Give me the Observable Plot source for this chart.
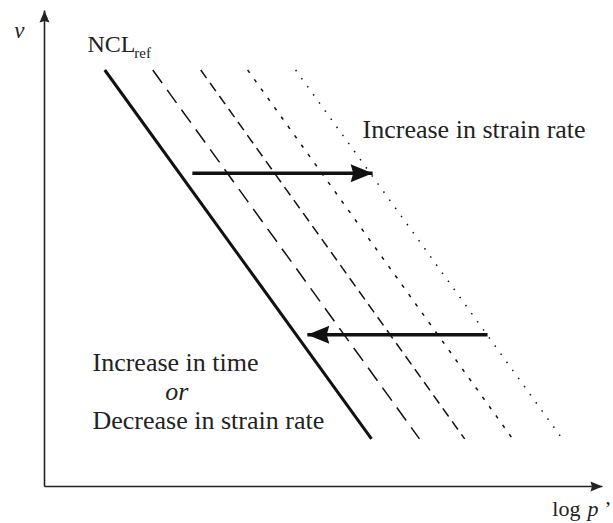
<!DOCTYPE html>
<html>
<head>
<meta charset="utf-8">
<script src="https://cdn.jsdelivr.net/npm/d3@7"></script>
<script src="https://cdn.jsdelivr.net/npm/@observablehq/plot@0.6"></script>
<style>
  html, body { margin: 0; padding: 0; background: #fff; }
  svg { display: block; }
</style>
</head>
<body>
<div id="chart"></div>
<script>
// Compression lines (log p' at top / bottom of each line, v range)
const lineNames = ["NCLref", "rate1", "rate2", "rate3", "rate4"];
const logPTop = [1.08, 1.94, 2.80, 3.64, 4.50];
const logPBottom = [5.86, 6.72, 7.53, 8.39, 9.28];
const vTop = 8.75;
const vBottom = 1.0;
const lineDash = [null, "16,8.5", "10,6", "3.5,8", "1.5,8.5"];
const lineWidth = [3, 1.5, 1.5, 1.5, 1.5];

// Shift arrows
const arrowX1 = [2.65, 7.94];
const arrowX2 = [5.88, 4.71];
const arrowV = [6.58, 3.19];

// Annotation texts (anchor in log p' / v units, baseline)
const labels = ["Increase in strain rate", "Increase in time", "Decrease in strain rate"];
const labelX = [5.70, 0.86, 0.86];
const labelV = [7.33, 2.42, 1.20];

const serif = "Liberation Serif, Times New Roman, serif";

const lineMarks = lineNames.map((name, i) => Plot.line(
  [{x: logPTop[i], y: vTop}, {x: logPBottom[i], y: vBottom}],
  {x: "x", y: "y", stroke: "#111", strokeWidth: lineWidth[i],
   strokeDasharray: lineDash[i] || undefined, strokeLinecap: "butt"}
));

const arrows = arrowX1.map((x1, i) => ({x1, x2: arrowX2[i], y: arrowV[i]}));
const labelData = labels.map((t, i) => ({t, x: labelX[i], y: labelV[i]}));

const chart = Plot.plot({
  width: 613,
  height: 523,
  margin: 0,
  style: {background: "#fff"},
  x: {domain: [0, 10], range: [44, 602], axis: null},
  y: {domain: [0, 10], range: [486, 10], axis: null},
  marks: [
    Plot.link([{x1: 0, y1: 0, x2: 10, y2: 0}, {x1: 0, y1: 0, x2: 0, y2: 10}],
      {x1: "x1", y1: "y1", x2: "x2", y2: "y2", stroke: "#222", strokeWidth: 1.6}),
    ...lineMarks,
    Plot.link(arrows, {x1: "x1", y1: "y", x2: "x2", y2: "y", stroke: "#111", strokeWidth: 3.5}),
    Plot.text(labelData, {x: "x", y: "y", text: "t", textAnchor: "start", lineAnchor: "bottom",
      fontSize: 26, fontFamily: serif, fill: "#222"}),
    Plot.text(["or"], {x: 2.37, y: 1.81, text: d => d, textAnchor: "middle", lineAnchor: "bottom",
      fontSize: 26, fontFamily: serif, fontStyle: "italic", fill: "#222"}),
    Plot.text(["NCL"], {x: 0.77, y: 9.12, text: d => d, textAnchor: "start", lineAnchor: "bottom",
      fontSize: 24, fontFamily: serif, fill: "#222"}),
    Plot.text(["ref"], {x: 1.61, y: 9.01, text: d => d, textAnchor: "start", lineAnchor: "bottom",
      fontSize: 15, fontFamily: serif, fill: "#222"}),
    Plot.text(["v"], {x: -0.45, y: 9.43, text: d => d, textAnchor: "middle", lineAnchor: "bottom",
      fontSize: 23, fontFamily: serif, fontStyle: "italic", fill: "#222"}),
    Plot.text(["log"], {x: 9.10, y: -0.61, text: d => d, textAnchor: "start", lineAnchor: "bottom",
      fontSize: 22, fontFamily: serif, fill: "#222"}),
    Plot.text(["p"], {x: 9.73, y: -0.61, text: d => d, textAnchor: "start", lineAnchor: "bottom",
      fontSize: 22, fontFamily: serif, fontStyle: "italic", fill: "#222"}),
    Plot.text(["\u2019"], {x: 10.03, y: -0.61, text: d => d, textAnchor: "start", lineAnchor: "bottom",
      fontSize: 22, fontFamily: serif, fill: "#222"})
  ]
});

// filled triangular arrowheads
const ns = "http://www.w3.org/2000/svg";
const defs = document.createElementNS(ns, "defs");
function addMarker(id, len, half, color) {
  const m = document.createElementNS(ns, "marker");
  m.setAttribute("id", id);
  m.setAttribute("markerUnits", "userSpaceOnUse");
  m.setAttribute("orient", "auto");
  m.setAttribute("refX", len);
  m.setAttribute("refY", 0);
  m.setAttribute("markerWidth", len + 2);
  m.setAttribute("markerHeight", half * 2 + 2);
  m.setAttribute("viewBox", `0 ${-half - 1} ${len + 2} ${half * 2 + 2}`);
  m.setAttribute("overflow", "visible");
  const p = document.createElementNS(ns, "path");
  p.setAttribute("d", `M0,${-half}L${len},0L0,${half}L${len * 0.12},0Z`);
  p.setAttribute("fill", color);
  p.setAttribute("stroke", "none");
  m.appendChild(p);
  defs.appendChild(m);
}
addMarker("head-big", 22, 9, "#111");
addMarker("head-axis", 12, 5, "#222");
chart.insertBefore(defs, chart.firstChild);
const linkGroups = chart.querySelectorAll('g[aria-label="link"]');
if (linkGroups.length >= 2) {
  linkGroups[0].querySelectorAll("path, line").forEach(p => p.setAttribute("marker-end", "url(#head-axis)"));
  linkGroups[1].querySelectorAll("path, line").forEach(p => p.setAttribute("marker-end", "url(#head-big)"));
}

document.getElementById("chart").appendChild(chart);
</script>
</body>
</html>
